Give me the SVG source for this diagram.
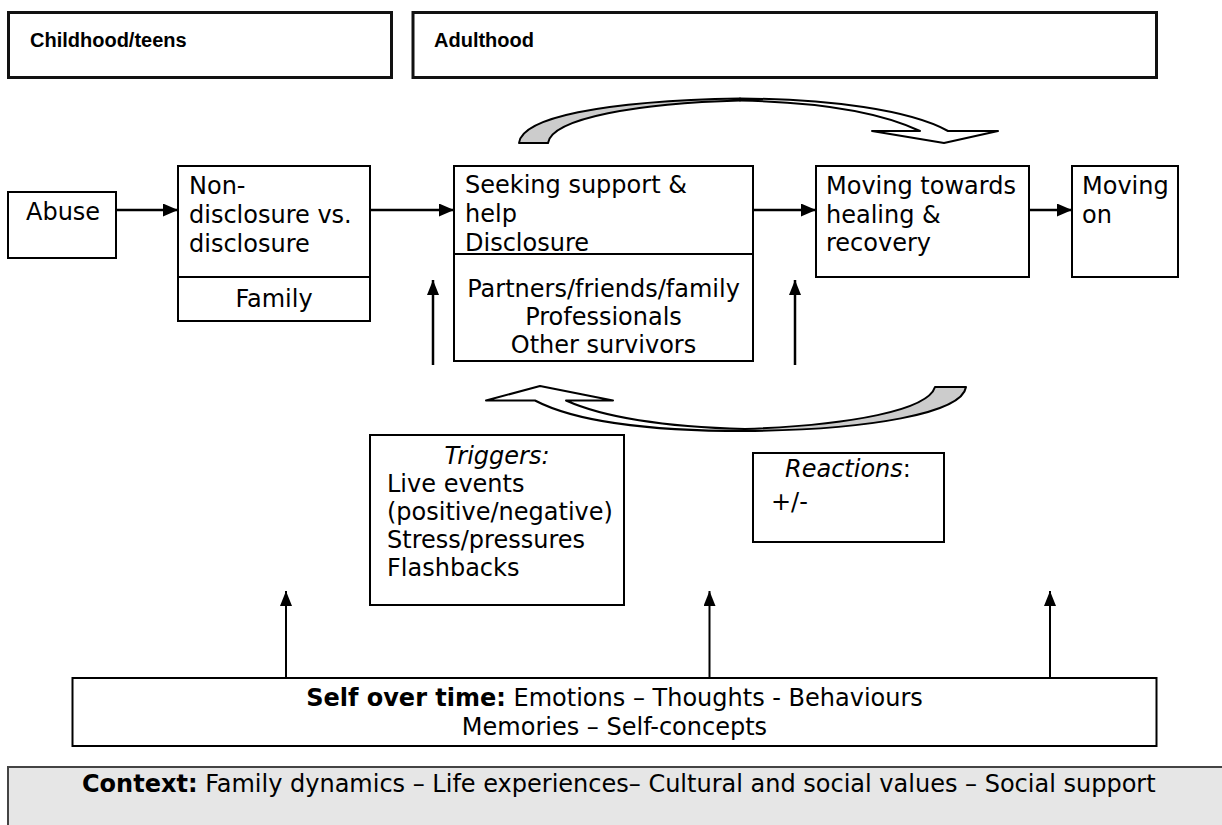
<svg xmlns="http://www.w3.org/2000/svg" width="1222" height="825" viewBox="0 0 1222 825">
<style>
.box{fill:#fff;stroke:#000;stroke-width:2}
.hbox{fill:#fff;stroke:#111;stroke-width:3}
.t{font-family:"DejaVu Sans",Verdana,sans-serif;font-size:24px;fill:#000}
.hdr{font-family:"Liberation Sans",Arial,sans-serif;font-weight:bold;font-size:20px;fill:#000}
.b{font-weight:bold}
.i{font-style:italic}
.c{text-anchor:middle}
.ln{stroke:#000;stroke-width:2.5;fill:none}
.ln2{stroke:#000;stroke-width:2;fill:none}
.gray{fill:#cccccc;stroke:#000;stroke-width:2;stroke-linejoin:round}
.white{fill:#fff;stroke:#000;stroke-width:2;stroke-linejoin:round}
</style>
<defs>
<marker id="ah" markerUnits="userSpaceOnUse" markerWidth="16" markerHeight="14" refX="15" refY="6.5" orient="auto">
<path d="M0,0 L15,6.5 L0,13 z" fill="#000"/>
</marker>
<marker id="av" markerUnits="userSpaceOnUse" markerWidth="16" markerHeight="14" refX="15" refY="6" orient="auto">
<path d="M0,0 L15,6 L0,12 z" fill="#000"/>
</marker>
</defs>

<g id="childhood">
<rect class="hbox" x="8.5" y="12.5" width="383" height="65"/>
<text class="hdr" x="30" y="47">Childhood/teens</text>
</g>
<g id="adulthood">
<rect class="hbox" x="413" y="12.5" width="743.5" height="65"/>
<text class="hdr" x="434" y="47">Adulthood</text>
</g>

<g id="abuse">
<rect class="box" x="8" y="192" width="108" height="66"/>
<text class="t" x="26" y="220">Abuse</text>
</g>

<g id="nondisclosure">
<rect class="box" x="178" y="166" width="192" height="155"/>
<line x1="178" y1="277" x2="370" y2="277" stroke="#000" stroke-width="2"/>
<text class="t" x="189" y="194">Non-</text>
<text class="t" x="189" y="223">disclosure vs.</text>
<text class="t" x="189" y="252">disclosure</text>
<text class="t c" x="274" y="307">Family</text>
</g>

<g id="seeking">
<rect class="box" x="454" y="166" width="299" height="195"/>
<line x1="454" y1="254" x2="753" y2="254" stroke="#000" stroke-width="2"/>
<text class="t" x="465" y="193">Seeking support &amp;</text>
<text class="t" x="465" y="222">help</text>
<text class="t" x="465" y="251">Disclosure</text>
<text class="t c" x="603.5" y="297">Partners/friends/family</text>
<text class="t c" x="603.5" y="325">Professionals</text>
<text class="t c" x="603.5" y="353">Other survivors</text>
</g>

<g id="healing">
<rect class="box" x="816" y="166" width="213" height="111"/>
<text class="t" x="826" y="194">Moving towards</text>
<text class="t" x="826" y="223">healing &amp;</text>
<text class="t" x="826" y="251">recovery</text>
</g>

<g id="movingon">
<rect class="box" x="1072" y="166" width="106" height="111"/>
<text class="t" x="1082" y="194">Moving</text>
<text class="t" x="1082" y="223">on</text>
</g>

<g id="triggers">
<rect class="box" x="370" y="435" width="254" height="170"/>
<text class="t c i" x="497" y="464">Triggers:</text>
<text class="t" x="387" y="492">Live events</text>
<text class="t" x="387" y="520">(positive/negative)</text>
<text class="t" x="387" y="548">Stress/pressures</text>
<text class="t" x="387" y="576">Flashbacks</text>
</g>

<g id="reactions">
<rect class="box" x="753" y="453" width="191" height="89"/>
<text class="t" x="785" y="477"><tspan class="i">Reactions</tspan>:</text>
<text class="t" x="771" y="510">+/-</text>
</g>

<g id="self">
<rect class="box" x="72.5" y="678" width="1084" height="68"/>
<text class="t c" x="614.5" y="706"><tspan class="b">Self over time:</tspan> Emotions – Thoughts - Behaviours</text>
<text class="t c" x="614.5" y="735">Memories – Self-concepts</text>
</g>

<g id="context">
<rect x="8" y="767" width="1230" height="70" fill="#e6e6e6" stroke="#444" stroke-width="2"/>
<text class="t" x="82" y="792"><tspan class="b">Context:</tspan> Family dynamics – Life experiences– Cultural and social values – Social support</text>
</g>

<g id="connectors">
<line class="ln" x1="116" y1="210" x2="178" y2="210" marker-end="url(#ah)"/>
<line class="ln" x1="370" y1="210" x2="454" y2="210" marker-end="url(#ah)"/>
<line class="ln" x1="753" y1="210" x2="816" y2="210" marker-end="url(#ah)"/>
<line class="ln" x1="1029" y1="210" x2="1072" y2="210" marker-end="url(#ah)"/>
<line class="ln" x1="433" y1="365" x2="433" y2="280" marker-end="url(#av)"/>
<line class="ln" x1="795" y1="365" x2="795" y2="280" marker-end="url(#av)"/>
<line class="ln2" x1="286" y1="678" x2="286" y2="591" marker-end="url(#av)"/>
<line class="ln2" x1="709.5" y1="678" x2="709.5" y2="591" marker-end="url(#av)"/>
<line class="ln2" x1="1050" y1="678" x2="1050" y2="591" marker-end="url(#av)"/>

<g id="curved-top">
<path class="gray" d="M519,143 C522,118 600,101 740,98.5 L740,100.5 C640,103 552,118 548,143 Z"/>
<path class="white" d="M740,98.5 C830,99 910,110 948,131 L998,131 L944,143 L872,131 L920,131 C880,112 820,102 740,100.5 Z"/>
</g>
<g id="curved-bottom">
<path class="white" d="M486,400.5 L540,386 L613,400.5 L566,400.5 C605,418 670,427 745,429 L745,431 C660,431 580,424 535,400.5 Z"/>
<path class="gray" d="M935,387 L966,387 C962,413 870,430 745,431 L745,429 C852,425 928,410 935,387 Z"/>
</g>
</g>
</svg>
